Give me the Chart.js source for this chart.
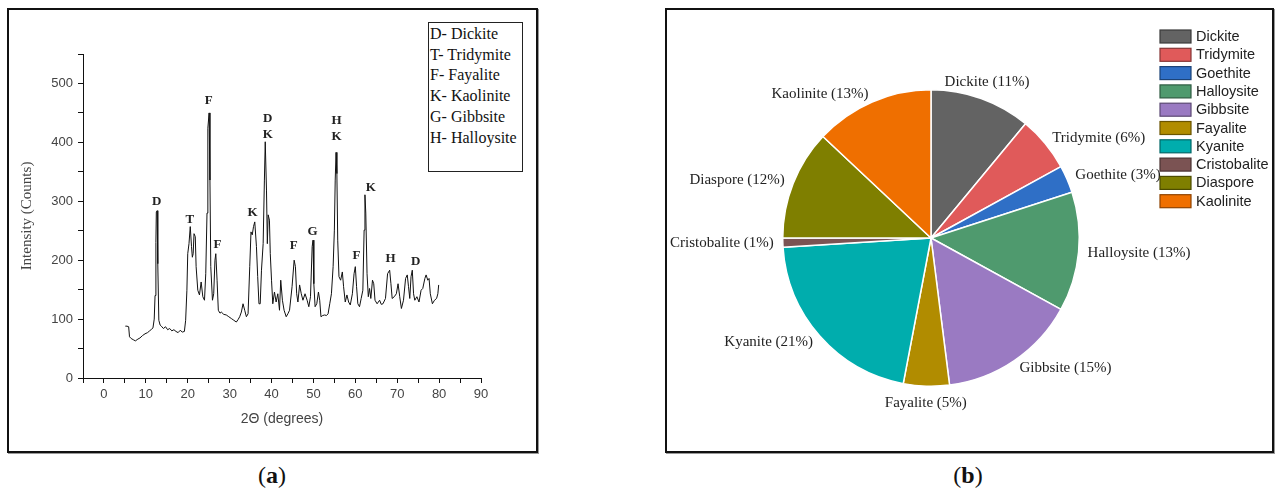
<!DOCTYPE html>
<html>
<head>
<meta charset="utf-8">
<script src="https://cdn.jsdelivr.net/npm/chart.js@4.4.1/dist/chart.umd.min.js"></script>
<style>
  body { margin: 0; background: #fff; width: 1276px; height: 493px; position: relative; overflow: hidden; }
  .frame { position: absolute; border: 2px solid #111; box-shadow: 1px 1px 0 #999; box-sizing: border-box; }
  canvas { position: absolute; }
  .key { position: absolute; left: 428px; top: 22px; width: 95px; height: 150px; border: 1px solid #222;
         box-sizing: border-box; background: #fff; font: 16px "Liberation Serif", serif; color: #111;
         line-height: 20.7px; padding: 1px 0 0 1px; white-space: nowrap; }
  .cap { position: absolute; top: 462px; font: 24px "Liberation Serif", serif; color: #111; transform: translateX(-50%); }
</style>
</head>
<body>
<div class="frame" style="left:7px;top:8px;width:531px;height:445px"></div>
<div class="frame" style="left:665px;top:8px;width:609px;height:445px"></div>
<canvas id="xrd" width="526" height="439" style="left:9px;top:11px"></canvas>
<canvas id="phases" width="604" height="439" style="left:667px;top:11px"></canvas>
<div class="key" id="xrdKey"></div>
<div class="cap" style="left:272px">(<b>a</b>)</div>
<div class="cap" style="left:968px">(<b>b</b>)</div>

<script>
// XRD pattern: 2θ (degrees) vs intensity (counts)
var twoTheta = [5.1, 5.5, 5.9, 6.1, 6.5, 7.0, 7.5, 8.1, 8.6, 9.2, 9.8, 10.4, 10.9, 11.4, 11.7, 12.0, 12.2, 12.4, 12.5, 12.7,
  12.8, 12.9, 13.1, 13.4, 13.7, 14.2, 14.7, 15.2, 15.7, 16.2, 16.7, 17.2, 17.7, 18.2, 18.7, 19.2, 19.5, 19.8, 20.0, 20.3,
  20.6, 20.9, 21.1, 21.3, 21.5, 21.8, 22.0, 22.4, 22.8, 23.2, 23.6, 24.0, 24.3, 24.6, 24.8, 25.1, 25.3, 25.5, 25.9, 26.2,
  26.5, 26.7, 27.0, 27.3, 27.7, 28.0, 28.6, 29.2, 29.8, 30.4, 31.0, 31.6, 32.0, 32.4, 32.8, 33.2, 33.6, 34.0, 34.4, 34.8,
  35.1, 35.4, 35.7, 36.0, 36.4, 36.7, 37.0, 37.3, 37.6, 38.0, 38.3, 38.5, 38.8, 39.0, 39.2, 39.5, 39.7, 40.0, 40.3, 40.7,
  41.1, 41.5, 41.9, 42.2, 42.6, 43.0, 43.5, 43.9, 44.3, 44.9, 45.4, 45.7, 46.0, 46.3, 46.7, 47.1, 47.5, 48.0, 48.5, 48.9,
  49.3, 49.7, 49.9, 50.1, 50.4, 50.8, 51.2, 51.5, 51.8, 52.2, 52.7, 53.1, 53.5, 53.9, 54.3, 54.7, 55.0, 55.2, 55.4, 55.6,
  55.8, 56.1, 56.5, 56.9, 57.2, 57.6, 58.0, 58.4, 58.8, 59.3, 59.7, 60.0, 60.3, 60.6, 61.0, 61.4, 61.8, 62.1, 62.3, 62.5,
  62.8, 63.1, 63.4, 63.7, 64.1, 64.4, 64.7, 65.2, 65.8, 66.2, 66.6, 67.2, 67.7, 68.2, 68.5, 68.8, 69.3, 69.8, 70.2, 70.6,
  71.0, 71.5, 72.0, 72.4, 72.7, 73.0, 73.3, 73.6, 73.9, 74.2, 74.7, 75.2, 75.7, 76.1, 76.6, 76.9, 77.3, 77.6, 77.9, 78.4,
  78.9, 79.4, 79.7, 79.9];
var counts = [88, 88, 87, 70, 67, 65, 63, 66, 68, 72, 75, 77, 80, 83, 85, 100, 140, 230, 282, 284,
  240, 194, 98, 90, 88, 84, 87, 82, 84, 80, 82, 79, 77, 81, 78, 79, 98, 149, 211, 228,
  257, 223, 205, 211, 245, 240, 189, 149, 141, 163, 138, 132, 177, 280, 424, 450, 336, 189, 132, 143,
  200, 211, 166, 115, 110, 112, 108, 107, 104, 101, 98, 95, 99, 104, 112, 126, 115, 104, 109, 189,
  248, 243, 257, 265, 223, 172, 126, 126, 183, 228, 336, 401, 319, 228, 277, 268, 211, 166, 126, 146,
  129, 143, 115, 166, 132, 115, 104, 109, 115, 155, 200, 189, 143, 129, 158, 143, 132, 143, 132, 121,
  138, 223, 234, 160, 121, 126, 146, 132, 104, 106, 107, 106, 109, 126, 143, 189, 251, 336, 383, 347,
  234, 172, 166, 180, 155, 129, 141, 129, 124, 143, 177, 189, 155, 126, 121, 135, 149, 251, 311, 280,
  177, 138, 152, 135, 166, 160, 132, 126, 132, 125, 126, 135, 177, 183, 160, 135, 138, 143, 160, 138,
  118, 132, 169, 175, 155, 135, 172, 183, 143, 132, 138, 129, 149, 152, 169, 175, 166, 169, 143, 126,
  132, 135, 143, 158];

// peak markers (letter, 2θ, height of the letter in counts)
var peakLetters = ["D", "T", "F", "F", "K", "D", "K", "F", "G", "H", "K", "F", "K", "H", "D"];
var peakTheta   = [12.6, 20.5, 25.0, 27.1, 35.5, 39.1, 39.1, 45.3, 49.8, 55.5, 55.5, 60.3, 63.7, 68.4, 74.4];
var peakCounts  = [300, 268, 470, 227, 280, 440, 413, 224, 248, 437, 409, 207, 323, 202, 197];

var keyLines = ["D- Dickite", "T- Tridymite", "F- Fayalite", "K- Kaolinite", "G- Gibbsite", "H- Halloysite"];

// mineral phases (%)
var phaseNames = ["Dickite", "Tridymite", "Goethite", "Halloysite", "Gibbsite", "Fayalite", "Kyanite", "Cristobalite", "Diaspore", "Kaolinite"];
var phasePercent = [11, 6, 3, 13, 15, 5, 21, 1, 12, 13];

var phaseColors = ["#636363", "#e05a5a", "#2f6fc6", "#4f9a6e", "#9a7ac2", "#b18c00", "#00adad", "#7b5353", "#7f7f00", "#ef6f00"];

document.getElementById("xrdKey").innerHTML = keyLines.join("<br>");

var sans = "'Liberation Sans', Arial, sans-serif";
var serif = "'Liberation Serif', 'Times New Roman', serif";

// letters above the peaks
var peakLabels = {
    id: 'peakLabels',
    afterDatasetsDraw: function(chart) {
        var c = chart.ctx;
        var xs = chart.scales.x, ys = chart.scales.y;
        c.save();
        c.font = "bold 13px " + serif;
        c.fillStyle = "#222";
        c.textAlign = "center";
        c.textBaseline = "middle";
        for (var i = 0; i < peakLetters.length; i++) {
            c.fillText(peakLetters[i], xs.getPixelForValue(peakTheta[i]), ys.getPixelForValue(peakCounts[i]));
        }
        c.restore();
    }
};

var ctx = document.getElementById("xrd").getContext('2d');
var xrd = new Chart(ctx, {
    type: 'line',
    data: {
        datasets: [{
            data: twoTheta.map(function(t, i) { return { x: t, y: counts[i] }; }),
            borderColor: '#111',
            borderWidth: 1,
            pointRadius: 0,
            tension: 0
        }]
    },
    options: {
        responsive: false,
        animation: false,
        layout: { padding: { top: 43, right: 54, left: 0, bottom: 0 } },
        plugins: { legend: { display: false }, tooltip: { enabled: false } },
        scales: {
            x: {
                type: 'linear',
                min: -5,
                max: 90,
                afterFit: function(s) { s.height = 72; },
                ticks: {
                    stepSize: 5,
                    autoSkip: false,
                    maxRotation: 0,
                    padding: 4,
                    color: '#444',
                    font: { family: sans, size: 13 },
                    callback: function(v) { return v % 10 === 0 ? v : ''; }
                },
                grid: { drawOnChartArea: false, tickLength: 5, color: '#111' },
                border: { color: '#111', width: 1 },
                title: { display: true, text: '2Θ (degrees)', color: '#444', font: { family: sans, size: 14 }, padding: { top: 0, bottom: 22 } }
            },
            y: {
                min: 0,
                max: 550,
                afterFit: function(s) { s.width = 74; },
                ticks: {
                    stepSize: 50,
                    autoSkip: false,
                    padding: 5,
                    color: '#444',
                    font: { family: sans, size: 13 },
                    callback: function(v) { return v % 100 === 0 ? v : ''; }
                },
                grid: { drawOnChartArea: false, tickLength: 5, color: '#111' },
                border: { color: '#111', width: 1 },
                title: { display: true, text: 'Intensity (Counts)', color: '#444', font: { family: serif, size: 15 }, padding: { top: 9, bottom: 0 } }
            }
        }
    },
    plugins: [peakLabels]
});

function darker(hex) {
    var n = parseInt(hex.slice(1), 16);
    var r = Math.round(((n >> 16) & 255) * 0.6), g = Math.round(((n >> 8) & 255) * 0.6), b = Math.round((n & 255) * 0.6);
    return 'rgb(' + r + ',' + g + ',' + b + ')';
}

// "Name (x%)" outside each slice
var sliceLabels = {
    id: 'sliceLabels',
    afterDatasetsDraw: function(chart) {
        var c = chart.ctx;
        var arcs = chart.getDatasetMeta(0).data;
        c.save();
        c.font = "15px " + serif;
        c.fillStyle = "#222";
        c.textBaseline = "middle";
        arcs.forEach(function(arc, i) {
            var p = arc.getProps(['x', 'y', 'startAngle', 'endAngle', 'outerRadius'], true);
            var mid = (p.startAngle + p.endAngle) / 2;
            var cx = Math.cos(mid), cy = Math.sin(mid);
            var d = Math.abs(cx) < 0.35 ? 17 : 9;
            c.textAlign = cx > 0.35 ? 'left' : (cx < -0.35 ? 'right' : 'center');
            c.fillText(chart.data.labels[i] + ' (' + phasePercent[i] + '%)',
                p.x + cx * (p.outerRadius + d), p.y + cy * (p.outerRadius + d));
        });
        c.restore();
    }
};

// legend at the right of the pie
var phaseLegend = {
    id: 'phaseLegend',
    afterDraw: function(chart) {
        var c = chart.ctx;
        c.save();
        c.font = "14.5px " + sans;
        c.textBaseline = "middle";
        chart.data.labels.forEach(function(name, i) {
            var top = 19 + i * 18.3;
            c.fillStyle = phaseColors[i];
            c.fillRect(493, top, 31, 13);
            c.strokeStyle = darker(phaseColors[i]);
            c.lineWidth = 1.2;
            c.strokeRect(493, top, 31, 13);
            c.fillStyle = '#222';
            c.fillText(name, 529, top + 7);
        });
        c.restore();
    }
};

var ctx = document.getElementById("phases").getContext('2d');
var phases = new Chart(ctx, {
    type: 'pie',
    data: {
        labels: phaseNames,
        datasets: [{
            data: phasePercent,
            backgroundColor: phaseColors,
            borderColor: '#fff',
            borderWidth: 1.5
        }]
    },
    options: {
        responsive: false,
        animation: false,
        layout: { padding: { left: 115, top: 78, right: 191, bottom: 63 } },
        plugins: { legend: { display: false }, tooltip: { enabled: false } }
    },
    plugins: [sliceLabels, phaseLegend]
});
</script>
</body>
</html>
